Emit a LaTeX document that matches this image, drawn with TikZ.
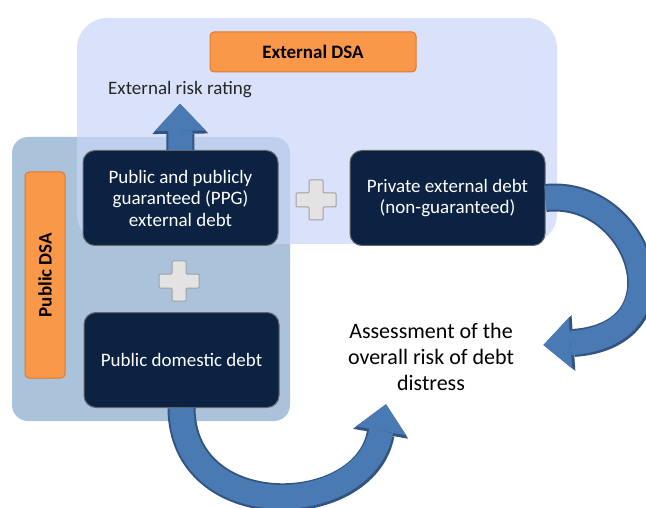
\documentclass[tikz,border=0pt]{standalone}
\usepackage{fontspec}
\setmainfont{Carlito}
\usetikzlibrary{arrows.meta,calc}
\definecolor{extpanel}{RGB}{201,214,248}
\definecolor{pubpanel}{RGB}{170,195,219}
\definecolor{navy}{RGB}{12,34,66}
\definecolor{dsaorange}{RGB}{249,152,72}
\definecolor{dsaedge}{RGB}{222,122,45}
\definecolor{arrowblue}{RGB}{74,122,180}
\definecolor{arrowedge}{RGB}{50,84,128}
\def\plussign(#1,#2){\draw[gray!75, fill=gray!22, line width=1pt, rounded corners=1pt] ($(#1,#2)+(-7,-20)$) -- ++(14,0) -- ++(0,13) -- ++(13,0) -- ++(0,14) -- ++(-13,0) -- ++(0,13) -- ++(-14,0) -- ++(0,-13) -- ++(-13,0) -- ++(0,-14) -- ++(13,0) -- cycle;}
\tikzset{
  debtbox/.style={draw=black!60, line width=1pt, fill=navy, text=white, rounded corners=12pt,
    minimum width=195pt, minimum height=95pt, align=center, font=\fontsize{19}{21.5}\selectfont},
  dsalabel/.style={draw=dsaedge, line width=1pt, fill=dsaorange, rounded corners=4pt,
    minimum width=206pt, minimum height=40pt, font=\bfseries\fontsize{19}{20}\selectfont},
  blockedge/.style={line width=28pt, arrowedge, -{Triangle[width=56pt,length=30pt,line width=0pt]}},
  blockfill/.style={line width=24pt, arrowblue, -{Triangle[width=51pt,length=27pt,line width=0pt]}},
}

\begin{document}
\begin{tikzpicture}[x=1pt,y=-1pt]
\useasboundingbox (0,0) rectangle (646,508);
%%%%% panels
\fill[pubpanel, rounded corners=16pt] (12,137) rectangle (290,421);
\fill[extpanel, fill opacity=0.7, rounded corners=30pt] (77,18) rectangle (557,244);

%%%%% DSA labels
\node[dsalabel] (extdsa) at (313,52) {External DSA};
\node[dsalabel, rotate=90] (pubdsa) at (45,275) {Public DSA};

%%%%% debt boxes
\node[debtbox] (ppg) at (180.5,198) {Public and publicly\\guaranteed (PPG)\\external debt};
\node[debtbox] (priv) at (447.5,198) {Private external debt\\(non-guaranteed)};
\node[debtbox] (dom) at (181.5,360) {Public domestic debt};

\plussign(316,200)
\plussign(179,281)

%%%%% results
\node[font=\fontsize{19}{20}\selectfont, text=black!85] (rating) at (180,90) {External risk rating};
\node[align=center, font=\fontsize{22}{26}\selectfont] (assess) at (431,357) {Assessment of the\\overall risk of debt\\distress};

%%%%% arrows
\draw[blockedge] (ppg.north) -- ($(rating.south)+(0,2)$);
\draw[blockfill] (ppg.north) -- ($(rating.south)+(0,2)$);
\draw[blockedge] (priv.east) .. controls (640,188) and (690,335) .. ($(assess.east)+(26,-12)$);
\draw[blockfill] (priv.east) .. controls (640,188) and (690,335) .. ($(assess.east)+(26,-12)$);
\draw[blockedge] (dom.south) .. controls (182,525) and (365,520) .. ($(assess.south)+(-45,10)$);
\draw[blockfill] (dom.south) .. controls (182,525) and (365,520) .. ($(assess.south)+(-45,10)$);
\end{tikzpicture}
\end{document}
